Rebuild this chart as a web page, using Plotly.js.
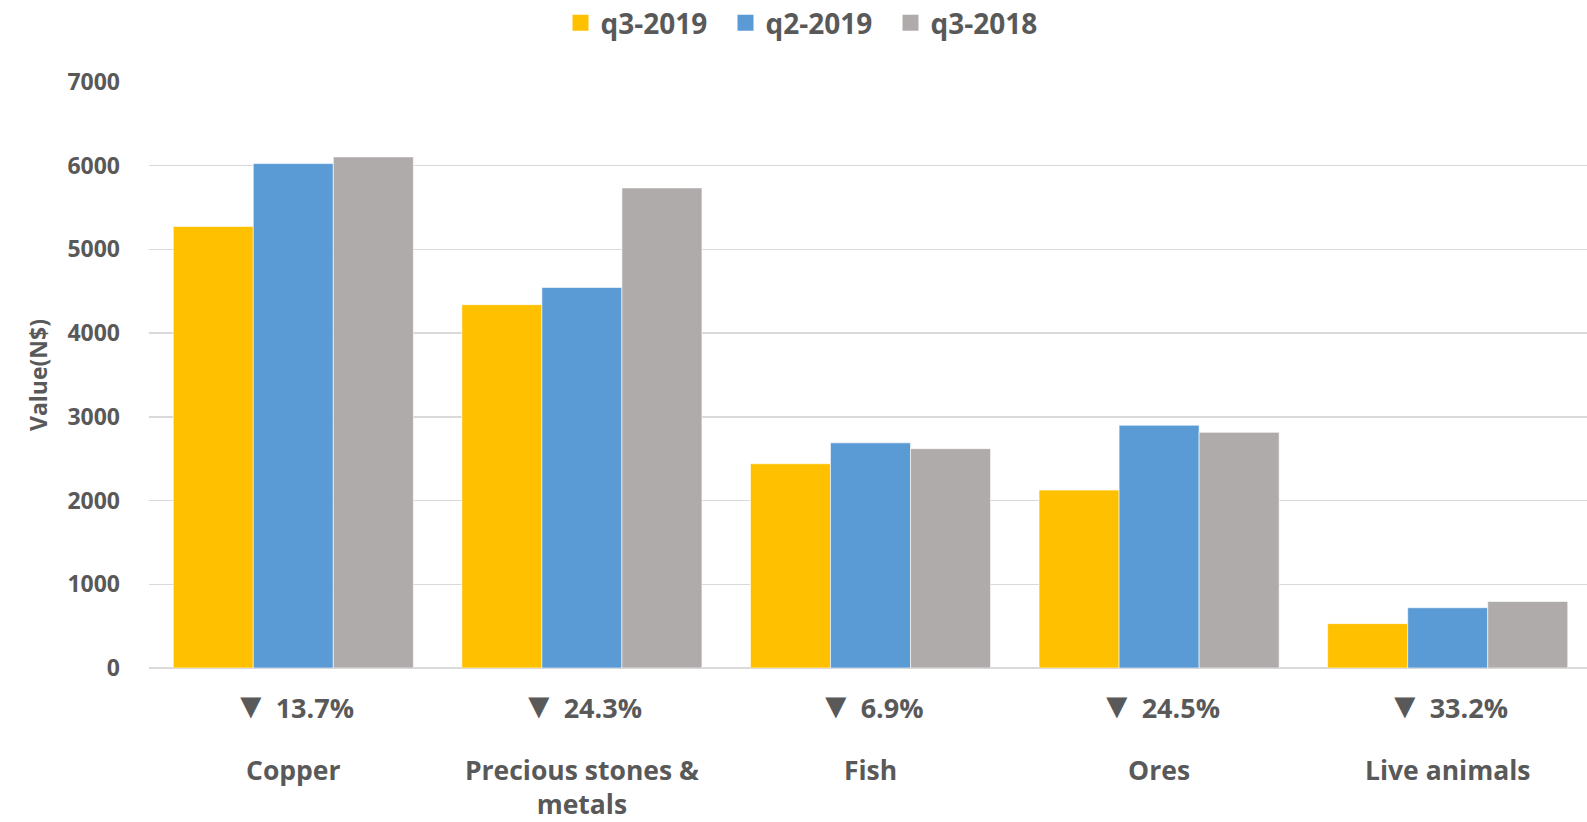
<!DOCTYPE html>
<html>
<head>
<meta charset="utf-8">
<script src="https://cdn.plot.ly/plotly-3.0.1.min.js"></script>
<style>
  html, body { margin: 0; padding: 0; background: #fff; overflow: hidden; }
  #chart { width: 1600px; height: 822px; }
</style>
</head>
<body>
<div id="chart"></div>
<script>
// categories and values
var categories = ['Copper', 'Precious stones & metals', 'Fish', 'Ores', 'Live animals'];
var categoryLabels = ['Copper', 'Precious stones &<br>metals', 'Fish', 'Ores', 'Live animals'];
var changeLabels = ['13.7%', '24.3%', '6.9%', '24.5%', '33.2%'];

var q3_2019 = [5275, 4340, 2440, 2125, 530];
var q2_2019 = [6025, 4545, 2690, 2900, 720];
var q3_2018 = [6105, 5735, 2620, 2815, 795];

var seriesNames = ['q3-2019', 'q2-2019', 'q3-2018'];
var seriesColors = ['#FFC000', '#5B9BD5', '#AFABAB'];
var yTicks = [0, 1000, 2000, 3000, 4000, 5000, 6000, 7000];

var textColor = '#595959';
var fontFam = '"Open Sans", "Liberation Sans", sans-serif';

var traces = [q3_2019, q2_2019, q3_2018].map(function(vals, i) {
    return {
        x: categories,
        y: vals,
        type: 'bar',
        name: seriesNames[i],
        showlegend: false,
        marker: { color: seriesColors[i], line: { color: 'rgba(255,255,255,0.6)', width: 1 } },
        hoverinfo: 'x+y+name'
    };
});

// legend-only entries so the swatches are big squares like in the original
seriesNames.forEach(function(n, i) {
    traces.push({
        x: [null],
        y: [null],
        type: 'scatter',
        mode: 'markers',
        name: n,
        marker: { symbol: 'square', size: 18, color: seriesColors[i] },
        showlegend: true
    });
});

// percent change labels under each category (all are decreases -> down triangle)
var annotations = categories.map(function(c, i) {
    return {
        x: c,
        xref: 'x',
        y: -0.063,
        yref: 'paper',
        yanchor: 'middle',
        text: '<span style="font-size:36px">\u25BC</span> ' + changeLabels[i],
        showarrow: false,
        font: { family: fontFam, size: 27, color: textColor, weight: 700 }
    };
});

var layout = {
    width: 1600,
    height: 822,
    paper_bgcolor: '#fff',
    plot_bgcolor: '#fff',
    barmode: 'group',
    bargap: 0.168,
    bargroupgap: 0,
    font: { family: fontFam, color: textColor, weight: 700 },
    margin: { l: 149, r: 8, t: 82, b: 154 },
    showlegend: true,
    legend: {
        orientation: 'h',
        x: 0.505,
        xref: 'container',
        xanchor: 'center',
        y: 0.972,
        yref: 'container',
        yanchor: 'middle',
        font: { family: fontFam, size: 28, color: textColor, weight: 700 },
        itemwidth: 30,
        entrywidth: 120,
        tracegroupgap: 0
    },
    xaxis: {
        type: 'category',
        tickvals: categories,
        ticktext: categoryLabels,
        tickfont: { family: fontFam, size: 26.5, color: textColor, weight: 700 },
        ticks: '',
        ticklabelstandoff: 84,
        showline: false,
        showgrid: false
    },
    yaxis: {
        range: [0, 7000],
        tickvals: yTicks,
        tickfont: { family: fontFam, size: 23, color: textColor, weight: 700 },
        ticklabelstandoff: 28,
        gridcolor: '#D9D9D9',
        gridwidth: 1.5,
        zeroline: true,
        zerolinecolor: '#D9D9D9',
        zerolinewidth: 2,
        title: {
            text: 'Value(N$)',
            font: { family: fontFam, size: 23, color: textColor, weight: 700 },
            standoff: 13
        }
    },
    annotations: annotations
};

Plotly.newPlot('chart', traces, layout, { displayModeBar: false, staticPlot: true });
</script>
</body>
</html>
